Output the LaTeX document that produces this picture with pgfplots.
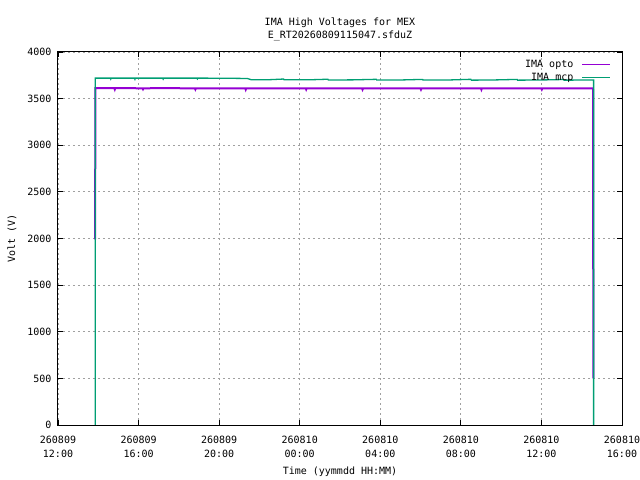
\documentclass[border=0pt]{standalone}
\usepackage{pgfplots}
\pgfplotsset{compat=1.18}
\usepackage{fontspec}
\setmainfont{DejaVu Sans Mono}
\definecolor{opto}{HTML}{9400D3}
\definecolor{mcp}{HTML}{009E73}
\definecolor{gridgray}{HTML}{A0A0A0}
\begin{document}
\begin{tikzpicture}
\path[use as bounding box] (-58bp,-55bp) rectangle (582bp,425bp);
\begin{axis}[
  at={(0,0)}, anchor=south west,
  scale only axis, width=564bp, height=373bp,
  xmin=0, xmax=28, ymin=0, ymax=4000,
  font=\fontsize{10bp}{12bp}\selectfont,
  /pgf/number format/assume math mode=true,
  /pgf/number format/1000 sep={},
  xtick={0,4,...,28},
  xticklabels={260809\\12:00,260809\\16:00,260809\\20:00,260810\\00:00,260810\\04:00,260810\\08:00,260810\\12:00,260810\\16:00},
  xticklabel style={align=center, yshift=-8bp, font=\fontsize{10bp}{13.5bp}\selectfont},
  ytick={0,500,...,4000},
  yticklabel style={xshift=-3bp},
  tick align=inside,
  major tick length=5bp,
  tick style={black, line width=0.8bp},
  axis line style={black, line width=1bp},
  grid=major,
  major grid style={gridgray, line width=0.8bp, dash pattern=on 2bp off 3bp},
  title={IMA High Voltages for MEX\\E\_RT20260809115047.sfduZ},
  title style={align=center, at={(0.5,1)}, anchor=south, yshift=2bp, font=\fontsize{10bp}{13bp}\selectfont},
  xlabel={Time (yymmdd HH:MM)},
  xlabel style={yshift=-2bp},
  ylabel={Volt (V)},
  ylabel style={yshift=4bp},
  legend plot pos=right,
  legend cell align=right,
  legend style={draw=none, fill=none, at={(1,1)}, anchor=north east, xshift=-8bp, yshift=-4bp, row sep=0bp, font=\fontsize{10bp}{12bp}\selectfont},
  legend image code/.code={\path (0bp,0bp); \draw[#1, line width=1bp] (6bp,0bp) -- (34bp,0bp);},
]
\addplot[opto, line width=2bp] coordinates {
(1.84,1990) (1.86,3612) (2.8,3612) (2.82,3600) (2.84,3612) (4.2,3611) (4.22,3602) (4.24,3611)
(5.6,3612) (6.8,3610) (6.82,3600) (6.84,3610) (8.4,3611) (9.3,3610) (9.32,3598) (9.34,3610)
(11.0,3610) (12.3,3611) (12.32,3600) (12.34,3611) (13.8,3610) (15.1,3609) (15.12,3598) (15.14,3609)
(16.6,3610) (18.0,3610) (18.02,3599) (18.04,3610) (19.6,3609) (21.0,3610) (21.02,3598) (21.04,3610)
(22.5,3609) (24.0,3609) (24.02,3599) (24.04,3609) (25.5,3609) (26.56,3609) (26.58,500)
};
\addlegendentry{IMA opto}
\addplot[mcp, line width=1.3bp] coordinates {
(1.85,0) (1.85,3720) (2.6,3720) (2.62,3710) (2.64,3720) (3.8,3720) (3.82,3708) (3.84,3720)
(5.2,3720) (5.22,3710) (5.24,3720) (6.9,3720) (6.92,3712) (6.94,3720) (8.1,3719)
(8.6,3718) (9.4,3716) (9.6,3702) (10.5,3703) (11.2,3710) (11.22,3702)
(12.5,3702) (13.4,3708) (13.42,3700) (14.6,3701) (15.8,3707) (15.82,3699)
(17.0,3700) (18.1,3706) (18.12,3699) (19.4,3700) (20.5,3707) (20.52,3698)
(21.6,3700) (22.8,3706) (22.82,3698) (24.0,3700) (25.1,3705) (25.12,3698)
(26.59,3700) (26.59,0)
};
\addlegendentry{IMA mcp}
\end{axis}
\end{tikzpicture}
\end{document}
